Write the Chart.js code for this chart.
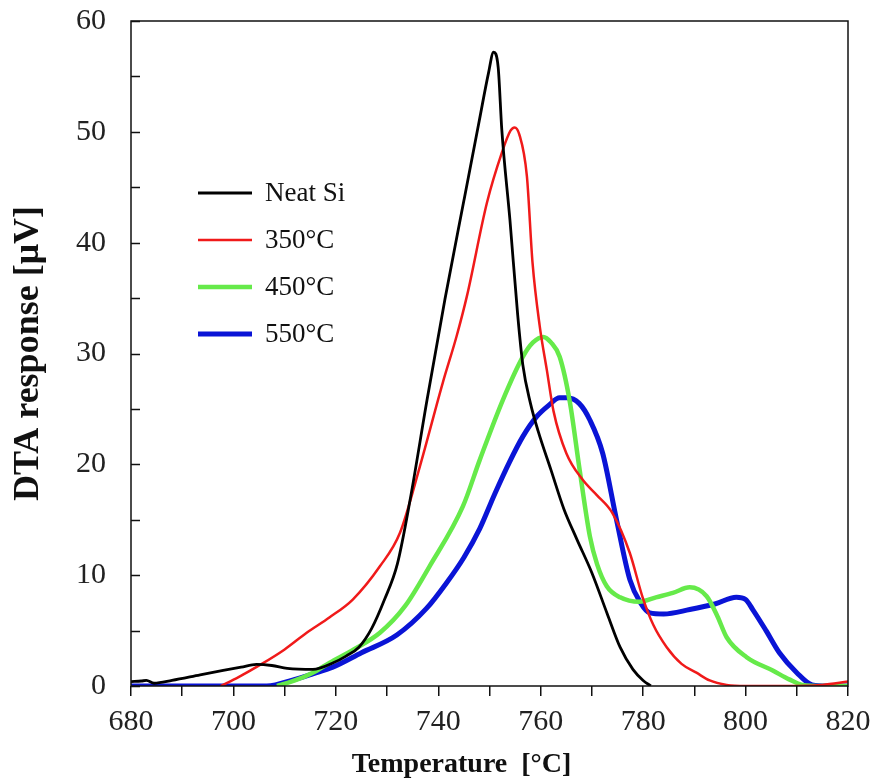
<!DOCTYPE html>
<html>
<head>
<meta charset="utf-8">
<script src="https://cdn.jsdelivr.net/npm/chart.js@4.4.1/dist/chart.umd.min.js"></script>
<style>
  html, body { margin: 0; padding: 0; background: #fff; }
  canvas { display: block; }
</style>
</head>
<body>
<canvas id="dta" width="876" height="782"></canvas>
<script>
// values
const seriesLabels = ['Neat Si', '350°C', '450°C', '550°C'];

const tempNeat = [680, 682, 683, 684.5, 688, 693.5, 698, 701.5, 704.5, 707.5, 710.5, 715.5, 719.5, 722, 724.5, 727, 729.5, 732, 734.5, 737.8, 741.3, 745, 748, 749.8, 750.8, 751.7, 752.4, 754, 755.5, 756.5, 758, 759.5, 762, 764.5, 767, 770, 773, 775.5, 778, 780, 781.5];
const dtaNeat  = [0.4, 0.45, 0.5, 0.25, 0.5, 1.0, 1.4, 1.7, 1.95, 1.85, 1.6, 1.5, 2.1, 2.7, 3.5, 5.2, 7.8, 11, 16.8, 25.8, 34.9, 43.8, 51, 55.3, 57.2, 55.8, 50.2, 42, 33.5, 29, 25.5, 23, 19.5, 16, 13.3, 10.2, 6.5, 3.5, 1.5, 0.5, 0];

const temp350 = [697.5, 701, 705.2, 710, 714.3, 718.8, 723.3, 728.6, 732.5, 736.4, 740.9, 743.6, 745.6, 749.5, 752.4, 754.1, 754.9, 755.8, 757.3, 758.4, 759.8, 761.2, 762.5, 765, 768.2, 771, 774, 777.4, 779.9, 782, 784.6, 787.5, 790.4, 793, 796.3, 800, 810, 815, 820];
const dta350  = [0, 0.8, 1.9, 3.3, 4.8, 6.2, 7.8, 10.8, 13.8, 19.8, 27.4, 31.6, 35.2, 43.6, 48.1, 50.1, 50.4, 49.8, 46, 38.2, 32.5, 28.5, 24.8, 21, 18.6, 17.2, 15.6, 12, 8, 5.5, 3.5, 2.0, 1.2, 0.5, 0.1, 0, 0, 0.1, 0.4];

const temp450 = [708.5, 712, 715.5, 718.8, 723.5, 728.6, 733.5, 738.3, 744.8, 748.1, 752.6, 756.5, 758.5, 760.5, 762, 763.7, 765.7, 767.6, 769.6, 771, 772.9, 775.5, 779.3, 782.5, 785.8, 789.1, 792.4, 794.5, 796.3, 800.2, 805.3, 808.5, 811.1, 815, 820];
const dta450  = [0, 0.5, 1.2, 2.1, 3.3, 4.8, 7.2, 10.8, 16.2, 20.4, 25.8, 29.7, 31, 31.5, 31, 29.7, 25.6, 19.5, 13.5, 11, 9, 8, 7.6, 8, 8.4, 8.9, 8.1, 6.3, 4.4, 2.6, 1.4, 0.6, 0.1, 0, 0];

const temp550 = [680, 690, 700, 706.5, 712, 715.5, 719.4, 725, 731.9, 737.7, 741.6, 745, 748.1, 751, 753.9, 756.5, 759.2, 761.5, 763.7, 765.1, 767.5, 769.6, 772.1, 774.8, 777.4, 779.5, 781.3, 784, 789.1, 794, 798.2, 800, 801.4, 804, 806.6, 810, 813, 816, 820];
const dta550  = [0, 0, 0, 0, 0.6, 1.1, 1.7, 3.0, 4.6, 7.0, 9.3, 11.6, 14.2, 17.3, 20.2, 22.5, 24.3, 25.3, 26, 26, 25.5, 24, 21, 15, 9.6, 7.5, 6.6, 6.5, 6.9, 7.4, 8, 7.8, 6.9, 5, 3, 1.2, 0.1, 0, 0];

const xMin = 680, xMax = 820, xStep = 10, xLabelEvery = 20;
const yMin = 0, yMax = 60, yStep = 10, yMinorStep = 5;

const pair = (xs, ys) => xs.map((x, i) => ({ x, y: ys[i] }));

const serif = "'Liberation Serif', 'Times New Roman', serif";

// cadre complet + petites graduations vers l'intérieur sur l'axe y
const framePlugin = {
    id: 'frame',
    afterDraw(chart) {
        const { ctx, chartArea: { left, right, top, bottom }, scales: { y } } = chart;
        ctx.save();
        ctx.strokeStyle = '#111';
        ctx.lineWidth = 1.5;
        ctx.strokeRect(left, top, right - left, bottom - top);
        ctx.beginPath();
        for (let v = yMin; v <= yMax; v += yMinorStep) {
            const py = Math.round(y.getPixelForValue(v)) + 0.5;
            ctx.moveTo(left, py);
            ctx.lineTo(left + 9, py);
        }
        ctx.stroke();
        ctx.restore();
    },
};

// légende dans la zone du graphe
const insideLegend = {
    id: 'insideLegend',
    afterDatasetsDraw(chart) {
        const { ctx, chartArea: { left, top } } = chart;
        ctx.save();
        ctx.font = `27px ${serif}`;
        ctx.textBaseline = 'middle';
        ctx.fillStyle = '#111';
        chart.data.datasets.forEach((ds, i) => {
            const yy = top + 172 + i * 47;
            ctx.beginPath();
            ctx.strokeStyle = ds.borderColor;
            ctx.lineWidth = ds.borderWidth;
            ctx.moveTo(left + 67, yy);
            ctx.lineTo(left + 121, yy);
            ctx.stroke();
            ctx.fillText(ds.label, left + 134, yy + 1);
        });
        ctx.restore();
    },
};

new Chart(document.getElementById('dta'), {
    type: 'line',
    plugins: [framePlugin, insideLegend],
    data: {
        datasets: [
            { label: seriesLabels[0], data: pair(tempNeat, dtaNeat), borderColor: '#000000', borderWidth: 2.8 },
            { label: seriesLabels[1], data: pair(temp350, dta350), borderColor: '#f01a1a', borderWidth: 2.5 },
            { label: seriesLabels[2], data: pair(temp450, dta450), borderColor: '#66ea4a', borderWidth: 4.5 },
            { label: seriesLabels[3], data: pair(temp550, dta550), borderColor: '#0a14d6', borderWidth: 5 },
        ].map(ds => ({ ...ds, pointRadius: 0, fill: false, cubicInterpolationMode: 'monotone' })),
    },
    options: {
        responsive: false,
        animation: false,
        layout: { padding: { left: 0, top: 21, right: 28, bottom: 0 } },
        plugins: {
            legend: { display: false },
            tooltip: { enabled: false },
        },
        scales: {
            x: {
                type: 'linear',
                min: xMin,
                max: xMax,
                afterFit: s => { s.height = 96; s.paddingLeft = 0; s.paddingRight = 0; },
                grid: { drawOnChartArea: false, drawTicks: true, tickLength: 10, color: '#111', lineWidth: 1.5 },
                border: { display: false },
                ticks: {
                    stepSize: xStep,
                    autoSkip: false,
                    maxRotation: 0,
                    padding: 8,
                    color: '#222',
                    font: { family: serif, size: 30 },
                    callback: v => (v % xLabelEvery === 0 ? v : ''),
                },
                title: {
                    display: true,
                    text: 'Temperature  [°C]        ',
                    color: '#111',
                    font: { family: serif, size: 28, weight: 'bold' },
                    padding: { top: 0, bottom: 0 },
                },
            },
            y: {
                min: yMin,
                max: yMax,
                afterFit: s => { s.width = 131; s.paddingTop = 0; s.paddingBottom = 0; },
                grid: { display: false },
                border: { display: false },
                ticks: {
                    stepSize: yStep,
                    padding: 17,
                    color: '#222',
                    font: { family: serif, size: 30 },
                },
                title: {
                    display: true,
                    text: 'DTA response [μV]',
                    color: '#111',
                    font: { family: serif, size: 36, weight: 'bold' },
                    padding: { top: 7, bottom: 0 },
                },
            },
        },
    },
});
</script>
</body>
</html>
